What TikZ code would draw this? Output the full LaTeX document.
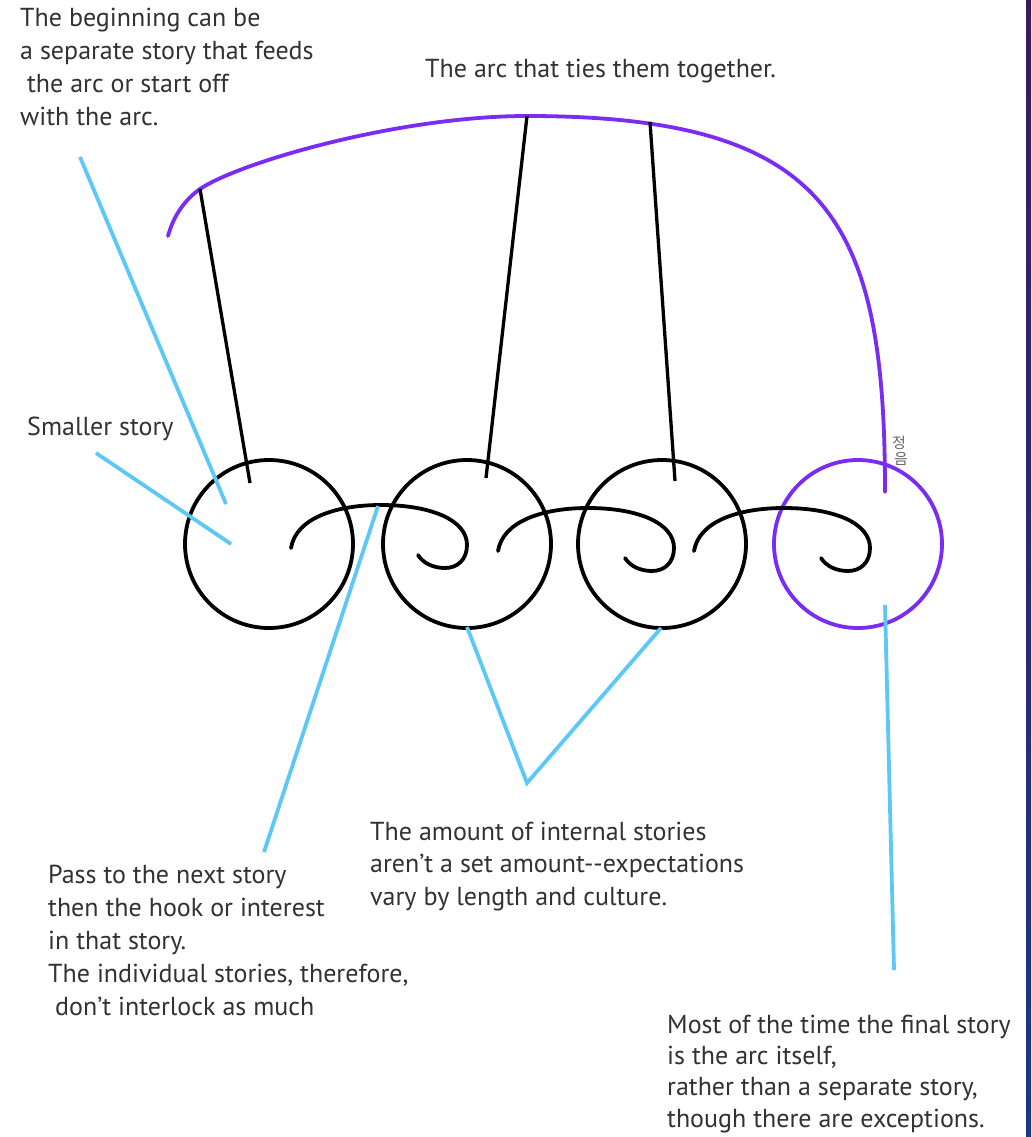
\documentclass[tikz,border=0pt]{standalone}
\usepackage{fontspec}
\setmainfont{PT Sans}
\newfontfamily\krfont{Noto Sans CJK KR}
\definecolor{arcpurple}{RGB}{122,44,245}
\definecolor{pointblue}{RGB}{92,200,248}
\definecolor{txtgray}{RGB}{50,50,50}
\definecolor{stripA}{RGB}{60,25,95}
\definecolor{stripB}{RGB}{25,55,140}
\begin{document}
\begin{tikzpicture}[x=1pt,y=-1pt,
  txt/.style={anchor=base west, align=left, inner sep=0pt, font=\fontsize{26}{32.7}\selectfont, text=txtgray},
  story/.style={circle, draw=black, line width=3.8pt, minimum size=168pt, inner sep=0pt},
  finalstory/.style={story, draw=arcpurple},
  hang/.style={draw=black, line width=3.3pt},
  pointer/.style={draw=pointblue, line width=3.8pt},
  spiral/.style={draw=black, line width=3.8pt, line cap=round},
  arcline/.style={draw=arcpurple, line width=3.8pt, line cap=round},
  sigtxt/.style={text=black!60, inner sep=0pt, anchor=north, font=\krfont\fontsize{15}{15}\selectfont}]
\useasboundingbox (0,0) rectangle (1031,1137);
\fill[white] (0,0) rectangle (1031,1137);
\shade[top color=stripA, bottom color=stripB] (1026,0) rectangle (1031,1137);

% story circles
\node[story] (c1) at (269,544) {};
\node[story] (c2) at (467,544) {};
\node[story] (c3) at (662,544) {};
\node[finalstory] (c4) at (858,544) {};

% spirals (hooks)
\foreach \sx/\sy in {291/548, 498/551, 694/551}{
  \begin{scope}[shift={(\sx,\sy)}]
  \draw[spiral] (0,0) .. controls (5,-30) and (45,-43) .. (90,-43)
     .. controls (140,-43) and (176,-28) .. (176,-3)
     .. controls (176,12) and (166,20) .. (154,20)
     .. controls (142,20) and (132,15) .. (127,7);
  \end{scope}
}

% the arc
\coordinate (arcstart) at (168,236);
\coordinate (a1) at (200,189);
\coordinate (a2) at (527,116);
\coordinate (arcend) at (885,492);
\draw[arcline] (arcstart) .. controls (174,214) and (186,199) .. (a1)
   .. controls (240,162) and (400,116) .. (a2)
   .. controls (830,116) and (885,220) .. (arcend);

% hanging lines
\coordinate (a3) at (650,122);
\coordinate (e1) at (250,483);
\coordinate (e2) at (486,478);
\coordinate (e3) at (675,481);
\draw[hang] (a1) -- (e1);
\draw[hang] (a2) -- (e2);
\draw[hang] (a3) -- (e3);

% signature
\node[sigtxt] (sig1) at (899,436) {정};
\node[sigtxt] (sig2) at (901,452) {음};

% texts
\node[txt] (tbeg) at (20,125) {The beginning can be\\a separate story that feeds\\\ the arc or start off\\with the arc.};
\node[txt] (tarc) at (425,78) {The arc that ties them together.};
\node[txt] (tsmall) at (27,435) {Smaller story};
\node[txt, font=\fontsize{26}{33}\selectfont] (tpass) at (48,1015) {Pass to the next story\\then the hook or interest\\in that story.\\The individual stories, therefore,\\\ don’t interlock as much};
\node[txt, font=\fontsize{26}{32.5}\selectfont] (tamount) at (370,905) {The amount of internal stories\\aren’t a set amount-{}-expectations\\vary by length and culture.};
\node[txt, font=\fontsize{26}{31.3}\selectfont] (tmost) at (667,1127) {Most of the time the final story\\is the arc itself,\\rather than a separate story,\\though there are exceptions.};

% pointers
\coordinate (p1s) at (80,157);   \coordinate (p1e) at (226,504);
\coordinate (p2s) at (96,453);   \coordinate (p2e) at (231,544);
\coordinate (p3s) at (378,506);  \coordinate (p3e) at (264,852);
\coordinate (p4a) at (467,627);  \coordinate (p4m) at (527,783); \coordinate (p4b) at (661,628);
\coordinate (p5s) at (885,605);  \coordinate (p5e) at (894,970);
\draw[pointer] (p1s) -- (p1e);
\draw[pointer] (p2s) -- (p2e);
\draw[pointer] (p3s) -- (p3e);
\draw[pointer] (p4a) -- (p4m) -- (p4b);
\draw[pointer] (p5s) -- (p5e);
\end{tikzpicture}
\end{document}
